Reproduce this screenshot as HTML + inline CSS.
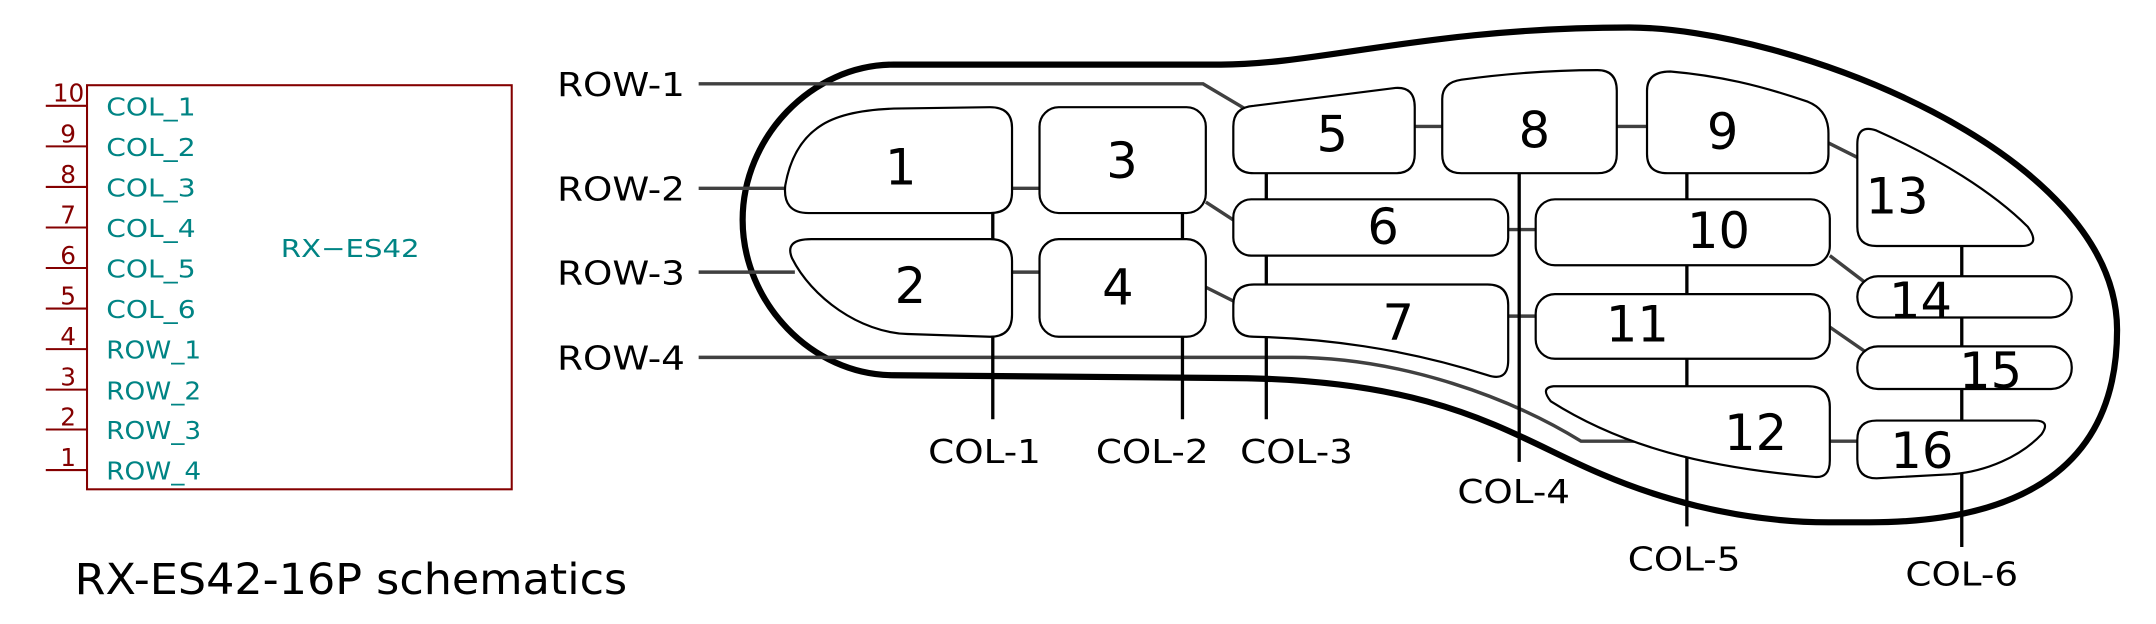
<!DOCTYPE html>
<html><head><meta charset="utf-8"><style>
html,body{margin:0;padding:0;background:#fff}
svg{display:block}
text{font-family:"DejaVu Sans","Liberation Sans",sans-serif}
.pn{font-family:"DejaVu Sans","Liberation Sans",sans-serif;fill:#840000;font-size:18px}
.pl{font-family:"DejaVu Sans","Liberation Sans",sans-serif;fill:#008484;font-size:18px}
.key{fill:#fff;stroke:#000;stroke-width:1.6}
.kl{font-size:36px;text-anchor:middle;dominant-baseline:central}
.row{stroke:#404040;stroke-width:2.5;fill:none}
.col{stroke:#000;stroke-width:2.4;fill:none}
.lbl{font-size:24px;text-anchor:middle}
</style></head><body>
<svg width="2156" height="624" viewBox="0 0 1568 454" xmlns="http://www.w3.org/2000/svg">
<g>
<rect x="63" y="62" width="309" height="294" fill="none" stroke="#840000" stroke-width="1.5"/>
<text x="204" y="187" class="pl" textLength="101" lengthAdjust="spacingAndGlyphs">RX−ES42</text>
<g stroke="#840000" stroke-width="1.5">
<line x1="33" y1="77" x2="63" y2="77"/><line x1="33" y1="106.5" x2="63" y2="106.5"/><line x1="33" y1="136" x2="63" y2="136"/><line x1="33" y1="165.5" x2="63" y2="165.5"/><line x1="33" y1="195" x2="63" y2="195"/><line x1="33" y1="224.5" x2="63" y2="224.5"/><line x1="33" y1="254" x2="63" y2="254"/><line x1="33" y1="283.5" x2="63" y2="283.5"/><line x1="33" y1="312.5" x2="63" y2="312.5"/><line x1="33" y1="342" x2="63" y2="342"/>
</g>
<g text-anchor="end">
<text class="pn" x="61" y="74">10</text>
<text class="pn" x="55" y="103.5">9</text>
<text class="pn" x="55" y="133">8</text>
<text class="pn" x="55" y="162.5">7</text>
<text class="pn" x="55" y="192">6</text>
<text class="pn" x="55" y="221.5">5</text>
<text class="pn" x="55" y="251">4</text>
<text class="pn" x="55" y="280.5">3</text>
<text class="pn" x="55" y="309.5">2</text>
<text class="pn" x="55" y="339">1</text>
</g>
<g>
<text class="pl" x="77" y="84" textLength="65" lengthAdjust="spacingAndGlyphs">COL_1</text>
<text class="pl" x="77" y="113.5" textLength="65" lengthAdjust="spacingAndGlyphs">COL_2</text>
<text class="pl" x="77" y="143" textLength="65" lengthAdjust="spacingAndGlyphs">COL_3</text>
<text class="pl" x="77" y="172.5" textLength="65" lengthAdjust="spacingAndGlyphs">COL_4</text>
<text class="pl" x="77" y="202" textLength="65" lengthAdjust="spacingAndGlyphs">COL_5</text>
<text class="pl" x="77" y="231.5" textLength="65" lengthAdjust="spacingAndGlyphs">COL_6</text>
<text class="pl" x="77" y="261" textLength="69" lengthAdjust="spacingAndGlyphs">ROW_1</text>
<text class="pl" x="77" y="290.5" textLength="69" lengthAdjust="spacingAndGlyphs">ROW_2</text>
<text class="pl" x="77" y="319.5" textLength="69" lengthAdjust="spacingAndGlyphs">ROW_3</text>
<text class="pl" x="77" y="349" textLength="69" lengthAdjust="spacingAndGlyphs">ROW_4</text>
</g>
</g>
<text x="54" y="432" font-size="31" textLength="402" lengthAdjust="spacingAndGlyphs">RX-ES42-16P schematics</text>

<path d="M650,47 L888,47 C960,47 1040,20 1185,20 C1300,20 1540,110 1540,240 C1540,340 1470,380 1360,380 L1330,380 C1260,380 1200,360 1165,345 C1100,318 1050,275 890,275 L650,273 C590,273 540,220 540,160 C540,100 590,47 650,47 Z" fill="none" stroke="#000" stroke-width="4.5"/>

<g>
<path class="row" d="M508,61 L875,61 L907,80"/>
<path class="row" d="M508,137 L573,137"/>
<path class="row" d="M508,198 L578,198"/>
<path class="row" d="M508,260 L940,260 C1020,260 1100,290 1150,321 L1255,321"/>
<path class="row" d="M736,137 L756,137 M736,198 L756,198 M877,147 L897,160 M877,209 L897,219 M1029,92 L1049,92 M1176,92 L1198,92 M1097,167 L1117,167 M1097,230 L1117,230 M1330,104 L1352,115 M1331,186 L1356,205 M1331,238 L1357,256 M1331,321 L1351,321"/>
</g>
<g>
<path class="col" d="M722,155 L722,174 M722,245 L722,305"/>
<path class="col" d="M860,155 L860,174 M860,245 L860,305"/>
<path class="col" d="M921,126 L921,145 M921,186 L921,207 M921,245 L921,305"/>
<path class="col" d="M1105,126 L1105,336"/>
<path class="col" d="M1227,126 L1227,145 M1227,193 L1227,214 M1227,261 L1227,281 M1227,330 L1227,383"/>
<path class="col" d="M1427,179 L1427,201 M1427,231 L1427,252 M1427,283 L1427,306 M1427,343 L1427,398"/>
</g>

<g>
<path class="key" d="M588,155 L720,155 Q736,155 736,140 L736,93 Q736,78 720,78 L650,79 C622,80 606,85 596,92 C581,102 574,118 571,135 Q569,155 588,155Z"/>
<path class="key" d="M590,174 L720,174 Q736,174 736,190 L736,229 Q736,245 720,245 L660,243 C625,242 590,216 576,188 Q570,174 590,174Z"/>
<rect class="key" x="756" y="78" width="121" height="77" rx="14"/>
<rect class="key" x="756" y="174" width="121" height="71" rx="14"/>
<path class="key" d="M912,77 L1015,64 Q1029,63 1029,78 L1029,112 Q1029,126 1015,126 L912,126 Q897,126 897,111 L897,92 Q897,78 912,77Z"/>
<rect class="key" x="897" y="145" width="200" height="41" rx="13"/>
<path class="key" d="M912,207 L1082,207 Q1097,207 1097,222 L1097,262 Q1097,278 1082,273 C1020,253 960,246 912,245 Q897,245 897,230 L897,222 Q897,207 912,207Z"/>
<path class="key" d="M1063,58 C1100,53 1130,51 1162,51 Q1176,51 1176,66 L1176,112 Q1176,126 1162,126 L1063,126 Q1049,126 1049,112 L1049,72 Q1049,60 1063,58Z"/>
<path class="key" d="M1215,52 C1250,55 1280,62 1315,74 Q1330,80 1330,97 L1330,112 Q1330,126 1315,126 L1213,126 Q1198,126 1198,112 L1198,66 Q1198,52 1215,52Z"/>
<rect class="key" x="1117" y="145" width="214" height="48" rx="14"/>
<rect class="key" x="1117" y="214" width="214" height="47" rx="14"/>
<path class="key" d="M1130,281 L1315,281 Q1331,281 1331,296 L1331,335 Q1331,348 1320,347 C1240,340 1180,325 1128,292 Q1120,282 1130,281Z"/>
<path class="key" d="M1365,95 C1410,115 1450,140 1475,165 Q1485,179 1470,179 L1365,179 Q1351,179 1351,165 L1351,105 Q1351,90 1365,95Z"/>
<rect class="key" x="1351" y="201" width="156" height="30" rx="15"/>
<rect class="key" x="1351" y="252" width="156" height="31" rx="15"/>
<path class="key" d="M1365,306 L1480,306 Q1492,306 1485,316 C1470,332 1445,343 1420,345 L1365,348 Q1351,348 1351,334 L1351,320 Q1351,306 1365,306Z"/>
</g>
<g>
<text class="kl" x="655" y="122">1</text>
<text class="kl" x="662" y="208">2</text>
<text class="kl" x="816" y="117">3</text>
<text class="kl" x="813" y="209">4</text>
<text class="kl" x="969" y="98">5</text>
<text class="kl" x="1006" y="165">6</text>
<text class="kl" x="1017" y="235">7</text>
<text class="kl" x="1116" y="95">8</text>
<text class="kl" x="1253" y="96">9</text>
<text class="kl" x="1250" y="168">10</text>
<text class="kl" x="1191" y="236">11</text>
<text class="kl" x="1277" y="315">12</text>
<text class="kl" x="1380" y="143">13</text>
<text class="kl" x="1397" y="219">14</text>
<text class="kl" x="1448" y="270">15</text>
<text class="kl" x="1398" y="328">16</text>
</g>
<g text-anchor="end" font-size="24">
<text x="498" y="70" textLength="93" lengthAdjust="spacingAndGlyphs">ROW-1</text>
<text x="498" y="146" textLength="93" lengthAdjust="spacingAndGlyphs">ROW-2</text>
<text x="498" y="207" textLength="93" lengthAdjust="spacingAndGlyphs">ROW-3</text>
<text x="498" y="269" textLength="93" lengthAdjust="spacingAndGlyphs">ROW-4</text>
</g>
<g>
<text class="lbl" x="716" y="337" textLength="82" lengthAdjust="spacingAndGlyphs">COL-1</text>
<text class="lbl" x="838" y="337" textLength="82" lengthAdjust="spacingAndGlyphs">COL-2</text>
<text class="lbl" x="943" y="337" textLength="82" lengthAdjust="spacingAndGlyphs">COL-3</text>
<text class="lbl" x="1101" y="366" textLength="82" lengthAdjust="spacingAndGlyphs">COL-4</text>
<text class="lbl" x="1225" y="415" textLength="82" lengthAdjust="spacingAndGlyphs">COL-5</text>
<text class="lbl" x="1427" y="426" textLength="82" lengthAdjust="spacingAndGlyphs">COL-6</text>
</g>
</svg>
</body></html>
